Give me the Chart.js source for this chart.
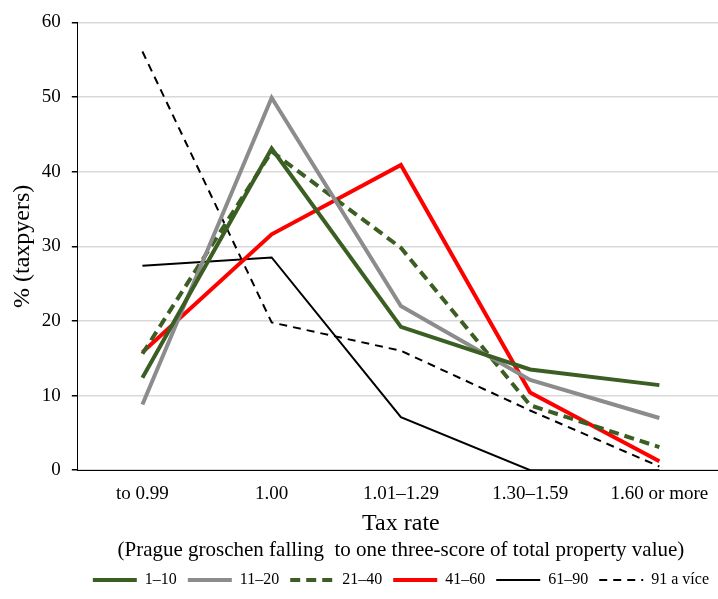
<!DOCTYPE html>
<html>
<head>
<meta charset="utf-8">
<script src="https://cdn.jsdelivr.net/npm/chart.js@4/dist/chart.umd.min.js"></script>
<style>
html,body{margin:0;padding:0;background:#fff;overflow:hidden;width:718px;height:599px;}
canvas{display:block;}
</style>
</head>
<body>
<canvas id="c" width="800" height="599"></canvas>
<script>
const categories = ['to 0.99', '1.00', '1.01\u20131.29', '1.30\u20131.59', '1.60 or more'];
const s1_10 = [12.4, 43.1, 19.2, 13.5, 11.4];
const s11_20 = [8.8, 49.9, 22.0, 12.1, 7.0];
const s21_40 = [15.6, 42.7, 29.8, 8.7, 3.1];
const s41_60 = [15.8, 31.6, 40.9, 10.4, 1.2];
const s61_90 = [27.4, 28.5, 7.1, 0, 0];
const s91 = [56.1, 19.8, 16.0, 8.0, 0.5];
const seriesNames = ['1\u201310', '11\u201320', '21\u201340', '41\u201360', '61\u201390', '91 a v\u00edce'];
const yTicks = [0, 10, 20, 30, 40, 50, 60];

const FONT = '"Liberation Serif", "Times New Roman", serif';
const green = '#3b5e23';

function ds(label, data, color, width, dash) {
  return {label, data, borderColor: color, backgroundColor: color, borderWidth: width,
    borderDash: dash || [], pointRadius: 0, pointHoverRadius: 0, tension: 0, fill: false,
    borderCapStyle: 'butt', borderJoinStyle: 'miter'};
}

new Chart(document.getElementById('c'), {
  type: 'line',
  data: {
    labels: categories,
    datasets: [
      ds(seriesNames[0], s1_10, green, 4),
      ds(seriesNames[1], s11_20, '#8c8c8c', 4),
      ds(seriesNames[2], s21_40, green, 4, [10, 6]),
      ds(seriesNames[3], s41_60, '#ff0000', 4),
      ds(seriesNames[4], s61_90, '#000000', 2),
      ds(seriesNames[5], s91, '#000000', 2, [8, 6])
    ]
  },
  options: {
    responsive: false,
    animation: false,
    layout: {padding: {top: 8, right: 76, left: 4, bottom: 1}},
    scales: {
      x: {
        offset: true,
        grid: {display: false, drawTicks: false},
        border: {display: true, color: '#000', width: 1},
        ticks: {color: '#000', font: {family: FONT, size: 19}, padding: 12, maxRotation: 0, autoSkip: false},
        title: {display: true, text: 'Tax rate', color: '#000', font: {family: FONT, size: 24}, padding: {top: -8, bottom: 0}}
      },
      y: {
        min: 0, max: 60,
        afterBuildTicks: (axis) => { axis.ticks = yTicks.map(v => ({value: v})); },
        grid: {color: '#d9d9d9', lineWidth: 1.5, tickColor: '#000', tickLength: 6, drawTicks: true},
        border: {display: true, color: '#000', width: 1},
        ticks: {color: '#000', font: {family: FONT, size: 19}, padding: 11},
        title: {display: true, text: '% (taxpyers)', color: '#000', font: {family: FONT, size: 24}, padding: {top: 4, bottom: -6}}
      }
    },
    plugins: {
      tooltip: {enabled: false},
      subtitle: {
        display: true, position: 'bottom', weight: 500, fullSize: false,
        text: '(Prague groschen falling  to one three-score of total property value)',
        color: '#000', font: {family: FONT, size: 21, weight: 'normal'}, padding: {top: 0, bottom: -2}
      },
      legend: {
        position: 'bottom', weight: 1000, fullSize: false,
        labels: {
          usePointStyle: true, pointStyle: 'line', pointStyleWidth: 44,
          color: '#000', font: {family: FONT, size: 16}, padding: 11, boxHeight: 16,
          generateLabels: (chart) => chart.data.datasets.map((d, i) => ({
            text: d.label, fillStyle: d.borderColor, strokeStyle: d.borderColor,
            lineWidth: d.borderWidth, lineDash: d.borderDash, lineCap: 'butt',
            pointStyle: 'line', hidden: false, datasetIndex: i, fontColor: '#000'
          }))
        }
      }
    }
  }
});
</script>
</body>
</html>
